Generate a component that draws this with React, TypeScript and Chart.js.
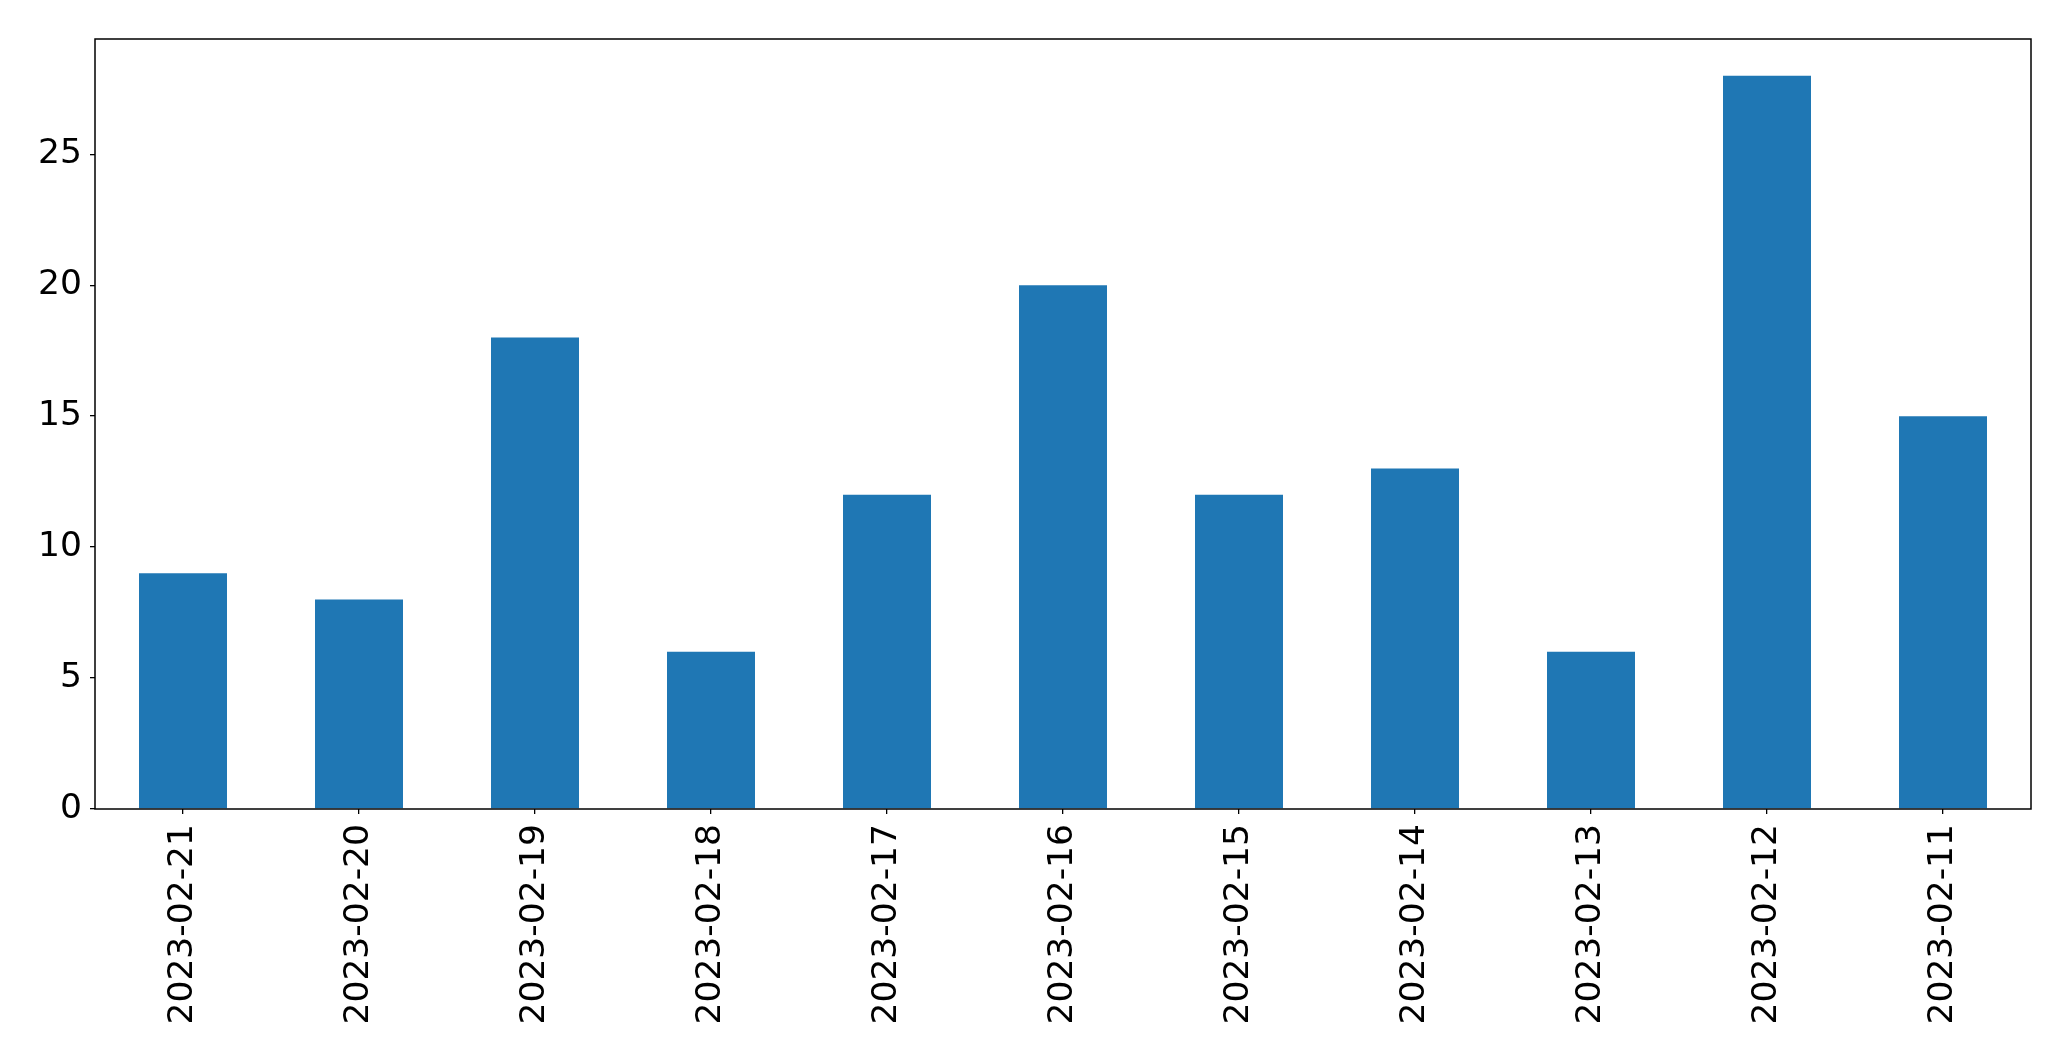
import React, { useEffect, useRef } from "react";
import { Chart, registerables } from "chart.js";

Chart.register(...registerables);

const categories: string[] = [
  "2023-02-21", "2023-02-20", "2023-02-19", "2023-02-18", "2023-02-17", "2023-02-16",
  "2023-02-15", "2023-02-14", "2023-02-13", "2023-02-12", "2023-02-11",
];
const values: number[] = [9, 8, 18, 6, 12, 20, 12, 13, 6, 28, 15];
const yTicks: number[] = [0, 5, 10, 15, 20, 25];

const W = 2071;
const H = 1061;

const framePlugin = {
  id: "frame",
  afterDraw(chart: any) {
    const { ctx, chartArea } = chart;
    ctx.save();
    ctx.strokeStyle = "#000";
    ctx.lineWidth = 1.5;
    ctx.strokeRect(chartArea.left, chartArea.top, chartArea.right - chartArea.left, chartArea.bottom - chartArea.top);
    ctx.restore();
  },
};

export default function App() {
  const ref = useRef<HTMLCanvasElement | null>(null);
  useEffect(() => {
    document.body.style.margin = "0";
    const canvas = ref.current!;
    const ymax = Math.max(...values) * 1.05;
    const chart = new Chart(canvas, {
      type: "bar",
      data: {
        labels: categories,
        datasets: [
          {
            data: values,
            backgroundColor: "#1f77b4",
            borderWidth: 0,
            categoryPercentage: 1,
            barPercentage: 0.5,
          },
        ],
      },
      options: {
        animation: false,
        responsive: false,
        devicePixelRatio: 1,
        layout: { padding: { top: 39, right: 40, left: 0, bottom: 0 } },
        plugins: { legend: { display: false }, tooltip: { enabled: false } },
        scales: {
          x: {
            offset: true,
            grid: { display: true, offset: false, drawOnChartArea: false, drawTicks: true, tickLength: 5, color: "#000", lineWidth: 1.3 },
            border: { display: false },
            ticks: {
              color: "#000",
              font: { family: "DejaVu Sans", size: 34.5 },
              minRotation: 90,
              maxRotation: 90,
              autoSkip: false,
              padding: 10,
            },
            afterFit(scale: any) {
              scale.height = 252;
            },
          },
          y: {
            min: 0,
            max: ymax,
            grid: { display: true, drawOnChartArea: false, drawTicks: true, tickLength: 5, color: "#000", lineWidth: 1.3 },
            border: { display: false },
            afterBuildTicks(scale: any) {
              scale.ticks = yTicks.map((v) => ({ value: v }));
            },
            ticks: {
              color: "#000",
              font: { family: "DejaVu Sans", size: 34.5 },
              padding: 8,
              includeBounds: false,
            },
            afterFit(scale: any) {
              scale.width = 95;
            },
          },
        },
      },
      plugins: [framePlugin],
    });
    return () => chart.destroy();
  }, []);
  return <canvas ref={ref} width={W} height={H} style={{ display: "block", width: W, height: H }} />;
}
